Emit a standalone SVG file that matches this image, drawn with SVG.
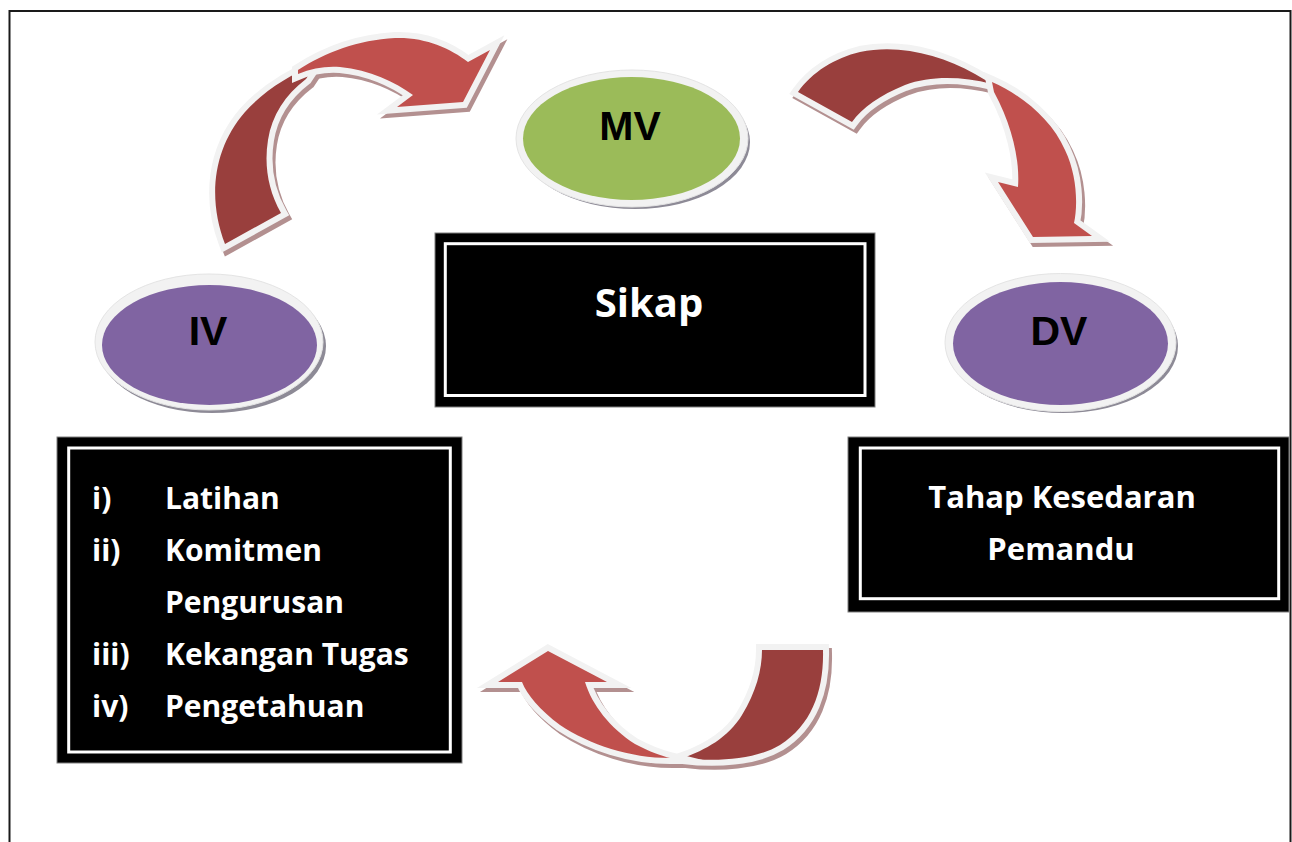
<svg xmlns="http://www.w3.org/2000/svg" width="1292" height="842" viewBox="0 0 1292 842">
<style>
.page{fill:#fff;stroke:#1a1a1a;stroke-width:2}
.sh{fill:#b39090;stroke:#b39090;stroke-width:12;stroke-linejoin:miter;stroke-miterlimit:10}
.dk{fill:#993f3d;stroke:#f2f2f2;stroke-width:12;stroke-linejoin:miter;stroke-miterlimit:10;paint-order:stroke fill}
.lt{fill:#c0504d;stroke:#f2f2f2;stroke-width:12;stroke-linejoin:miter;stroke-miterlimit:10;paint-order:stroke fill}
.esh{fill:#8d8a96}
.rim{fill:#f2f2f2;stroke:#e4e4e4;stroke-width:1}
.purple{fill:#8064a2}
.green{fill:#9bbb59}
.elbl{font-family:"Liberation Sans",Arial,sans-serif;font-weight:bold;font-size:41px;fill:#000;text-anchor:middle}
.outer{fill:#000;stroke:#7f7f7f;stroke-width:1}
.inner{fill:none;stroke:#fff;stroke-width:3}
.bt{font-family:"Open Sans","Noto Sans",sans-serif;font-weight:bold;fill:#fff}
</style>
<rect class="page" x="9.5" y="11" width="1281" height="900"/>

<g id="connectors">
  <g id="arrow-iv-mv">
    <path class="sh" transform="translate(3,4)" d="M225,244 C208,200 212,150 245,112 C265,90 288,76 316,64 L306,79 C285,95 272,115 268,140 C264,165 268,190 281,213 Z"/>
    <path class="sh" transform="translate(3,4)" d="M298,70 C326,52 358,40 395,38 C425,37 450,48 468,62 L490,50 L463,102 L397,107 L413,95 C395,82 370,70 340,67 C326,66 312,68 298,74 Z"/>
    <path class="dk" d="M225,244 C208,200 212,150 245,112 C265,90 288,76 316,64 L306,79 C285,95 272,115 268,140 C264,165 268,190 281,213 Z"/>
    <path class="lt" d="M298,70 C326,52 358,40 395,38 C425,37 450,48 468,62 L490,50 L463,102 L397,107 L413,95 C395,82 370,70 340,67 C326,66 312,68 298,74 Z"/>
  </g>
  <g id="arrow-mv-dv">
    <path class="sh" transform="translate(3,4)" d="M798,92 C812,72 835,58 860,52 C900,44 940,55 975,74 L992,84 C960,76 930,76 905,85 C880,95 862,108 852,122 Z"/>
    <path class="sh" transform="translate(3,4)" d="M992,82 C1022,95 1052,120 1065,150 C1077,175 1078,205 1074,223 L1092,236 L1033,237 L998,182 L1018,187 C1020,160 1012,125 994,92 Z"/>
    <path class="dk" d="M798,92 C812,72 835,58 860,52 C900,44 940,55 975,74 L992,84 C960,76 930,76 905,85 C880,95 862,108 852,122 Z"/>
    <path class="lt" d="M992,82 C1022,95 1052,120 1065,150 C1077,175 1078,205 1074,223 L1092,236 L1033,237 L998,182 L1018,187 C1020,160 1012,125 994,92 Z"/>
  </g>
  <g id="arrow-dv-iv">
    <path class="sh" transform="translate(3,4)" d="M762,650 L823,650 C824,690 812,725 780,745 C755,760 715,762 683,758 C705,750 728,738 742,715 C756,692 762,670 762,650 Z"/>
    <path class="sh" transform="translate(3,4)" d="M670,758 C630,758 590,745 560,725 C540,710 527,695 522,682 L498,682 L548,651 L607,682 L585,682 C592,705 610,728 635,744 C650,752 662,756 670,758 Z"/>
    <path class="dk" d="M762,650 L823,650 C824,690 812,725 780,745 C755,760 715,762 683,758 C705,750 728,738 742,715 C756,692 762,670 762,650 Z"/>
    <path class="lt" d="M670,758 C630,758 590,745 560,725 C540,710 527,695 522,682 L498,682 L548,651 L607,682 L585,682 C592,705 610,728 635,744 C650,752 662,756 670,758 Z"/>
  </g>
</g>

<g id="node-mv">
  <ellipse class="esh" cx="635" cy="142" rx="115" ry="67"/>
  <ellipse class="rim" cx="632" cy="138.5" rx="116" ry="68.5"/>
  <ellipse class="green" cx="631.5" cy="138.5" rx="108.5" ry="61.5"/>
  <text class="elbl" x="630" y="140">MV</text>
</g>

<g id="node-iv">
  <ellipse class="esh" cx="212" cy="346" rx="114" ry="67"/>
  <ellipse class="rim" cx="209" cy="342" rx="114" ry="68"/>
  <ellipse class="purple" cx="209.5" cy="345" rx="107.5" ry="60"/>
  <text class="elbl" x="208" y="345">IV</text>
</g>

<g id="node-dv">
  <ellipse class="esh" cx="1063" cy="346" rx="115" ry="67"/>
  <ellipse class="rim" cx="1060.5" cy="342.5" rx="115.5" ry="69"/>
  <ellipse class="purple" cx="1060.5" cy="343.5" rx="107.5" ry="61.5"/>
  <text class="elbl" x="1059" y="345">DV</text>
</g>

<g id="node-sikap">
  <rect class="outer" x="435" y="233" width="440" height="174"/>
  <rect class="inner" x="445.3" y="243.7" width="419.7" height="151.8"/>
  <text class="bt" x="649" y="317" font-size="40" text-anchor="middle">Sikap</text>
</g>

<g id="node-iv-list">
  <rect class="outer" x="57" y="437" width="405" height="326"/>
  <rect class="inner" x="68.7" y="448" width="381.6" height="304"/>
  <g class="bt" font-size="30">
    <text x="92" y="509">i)</text><text x="165" y="509">Latihan</text>
    <text x="92" y="561">ii)</text><text x="165" y="561">Komitmen</text>
    <text x="165" y="613">Pengurusan</text>
    <text x="92" y="665">iii)</text><text x="165" y="665">Kekangan Tugas</text>
    <text x="92" y="717">iv)</text><text x="165" y="717">Pengetahuan</text>
  </g>
</g>

<g id="node-dv-box">
  <rect class="outer" x="848" y="437" width="441" height="175"/>
  <rect class="inner" x="860.3" y="448" width="418.4" height="150.7"/>
  <g class="bt" font-size="31" text-anchor="middle">
    <text x="1062" y="508">Tahap Kesedaran</text>
    <text x="1061" y="560">Pemandu</text>
  </g>
</g>
</svg>
